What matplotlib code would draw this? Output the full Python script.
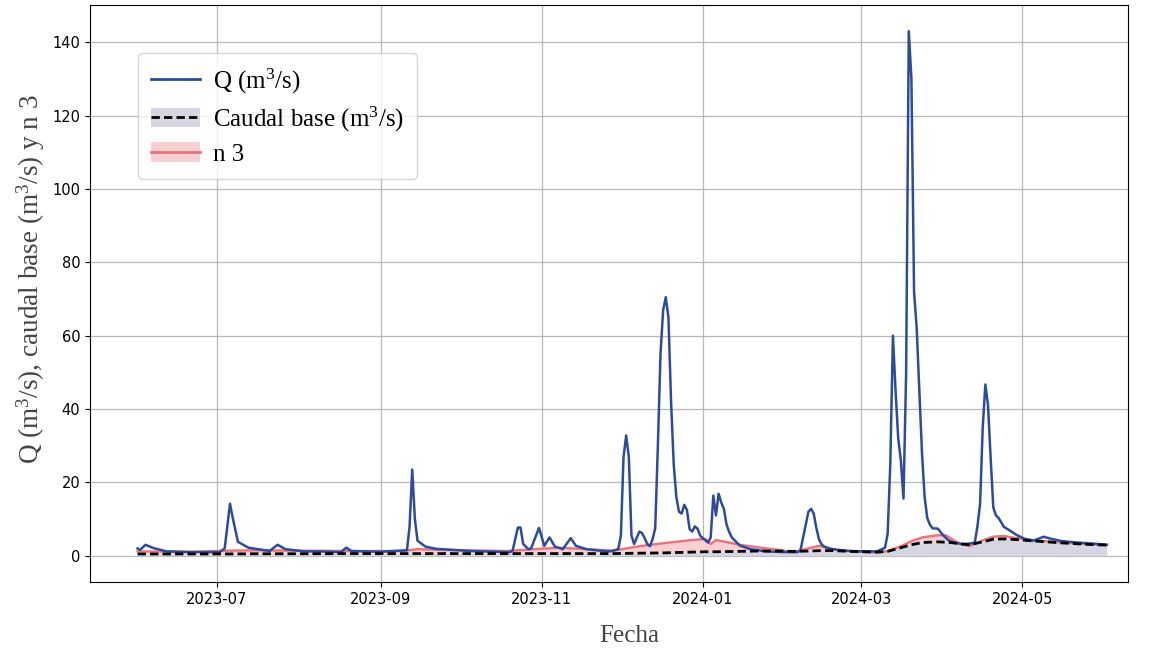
import datetime as dt
import matplotlib
matplotlib.use("Agg")
import matplotlib.pyplot as plt
import matplotlib.dates as mdates
from matplotlib.lines import Line2D
from matplotlib.patches import Patch

plt.rcParams["mathtext.fontset"] = "custom"
plt.rcParams["mathtext.rm"] = "Liberation Serif"
plt.rcParams["mathtext.it"] = "Liberation Serif:italic"
plt.rcParams["mathtext.bf"] = "Liberation Serif:bold"

START = dt.datetime(2023, 6, 1)

# Q (m3/s): (day offset from 2023-06-01, value)
q_days = [0, 1, 3, 6, 11, 20, 31, 33, 35, 36, 38, 42, 50, 53, 56, 63, 69, 77, 79, 81,
          92, 102, 103, 104, 105, 106, 109, 113, 126, 141, 142, 144, 145, 146, 148, 149,
          152, 154, 156, 158, 161, 164, 166, 170, 175, 179, 182, 183, 184, 185, 186, 187,
          188, 190, 191, 192, 193, 194, 195, 196, 197, 198, 199, 200, 201, 202, 203, 204,
          205, 206, 207, 208, 209, 210, 211, 212, 213, 214, 216, 217, 218, 219, 220, 221,
          222, 223, 224, 225, 228, 232, 238, 245, 250, 251, 252, 253, 254, 255, 256, 257,
          258, 259, 260, 262, 265, 270, 275, 280, 283, 284, 285, 286, 287, 288, 289, 290,
          291, 292, 293, 294, 295, 296, 297, 298, 299, 300, 301, 303, 305, 307, 309, 312,
          315, 317, 318, 319, 320, 321, 322, 323, 324, 325, 326, 328, 330, 333, 336, 339,
          341, 343, 346, 350, 356, 362, 367]
q_vals = [2.0, 1.6, 3.0, 2.1, 1.2, 1.0, 1.0, 2.0, 14.2, 10.5, 3.8, 2.2, 1.3, 3.0, 1.8, 1.2, 1.2, 1.0, 2.2, 1.3,
          1.1, 1.5, 8.0, 23.5, 10.0, 4.1, 2.5, 1.9, 1.3, 1.0, 1.4, 7.7, 7.7, 3.2, 1.8, 2.0,
          7.6, 2.7, 5.0, 2.5, 1.8, 4.8, 2.7, 1.8, 1.4, 1.2, 1.8, 5.5, 26.9, 32.8, 27.0, 5.5,
          3.2, 6.6, 6.2, 4.8, 3.2, 2.6, 4.5, 7.5, 30.0, 55.0, 67.0, 70.5, 65.0, 42.0, 25.0, 16.0,
          12.0, 11.5, 13.9, 12.5, 7.3, 6.6, 8.0, 7.4, 5.5, 4.8, 3.6, 5.0, 16.4, 11.0, 16.9, 14.5,
          12.8, 8.5, 6.5, 5.0, 2.8, 1.8, 1.2, 1.0, 1.0, 1.5, 5.0, 8.5, 12.0, 12.8, 11.5, 7.6,
          4.5, 3.1, 2.5, 2.0, 1.6, 1.3, 1.2, 1.2, 2.2, 6.0, 25.0, 60.0, 45.0, 32.0, 26.0, 15.6,
          50.0, 143.0, 130.0, 72.0, 62.0, 45.0, 28.0, 16.0, 10.3, 8.5, 7.5, 7.4, 5.6, 4.2, 3.6, 3.2,
          3.3, 3.6, 8.0, 14.2, 35.0, 46.7, 41.0, 26.6, 13.2, 11.0, 10.3, 7.9, 7.0, 5.6, 4.6, 4.1,
          4.6, 5.2, 4.6, 4.0, 3.6, 3.3, 3.0]

# Caudal base and n 3 (shared dates)
s_days = [0, 20, 35, 45, 60, 80, 100, 106, 115, 140, 150, 160, 170, 180, 190, 200, 210,
          215, 217, 219, 228, 235, 243, 248, 255, 258, 263, 270, 280, 284, 289, 293, 297,
          303, 306, 309, 312, 315, 320, 324, 328, 333, 340, 350, 360, 367]
base_vals = [0.5, 0.5, 0.5, 0.55, 0.55, 0.6, 0.6, 0.6, 0.6, 0.6, 0.6, 0.6, 0.6, 0.6, 0.7, 0.8, 1.0,
             1.1, 1.1, 1.1, 1.2, 1.3, 1.3, 1.2, 1.3, 1.4, 1.4, 1.2, 1.0, 1.2, 2.2, 3.0, 3.6,
             3.8, 3.7, 3.5, 3.2, 3.0, 3.8, 4.5, 4.6, 4.4, 4.0, 3.5, 3.1, 2.9]
n3_vals = [1.2, 1.1, 1.4, 1.5, 1.4, 1.3, 1.3, 1.8, 1.6, 1.3, 1.8, 2.2, 1.8, 1.4, 2.6, 3.5, 4.3,
           4.6, 3.2, 4.3, 3.0, 2.3, 1.6, 1.0, 2.2, 2.7, 1.8, 1.2, 0.9, 1.3, 2.6, 4.0, 5.0,
           5.6, 5.6, 4.2, 3.2, 2.6, 4.2, 5.2, 5.4, 4.8, 4.2, 3.6, 3.2, 3.0]

legend_labels = ["Q (m$^3$/s)", "Caudal base (m$^3$/s)", "n 3"]
x_label = "Fecha"
y_label = "Q (m$^3$/s), caudal base (m$^3$/s) y n 3"

q_dates = [START + dt.timedelta(days=d) for d in q_days]
s_dates = [START + dt.timedelta(days=d) for d in s_days]

BLUE = "#2b4c9e"
RED = "#e8737c"
PINK = "#f9cfd1"
GRAY = "#d6d6e2"

fig = plt.figure(figsize=(11.54, 6.48), dpi=100)
ax = fig.add_axes([90 / 1154, 1 - 582 / 648, (1128 - 90) / 1154, (582 - 5) / 648])

ax.fill_between(s_dates, 0, base_vals, color=GRAY, lw=0, zorder=2)
ax.fill_between(s_dates, base_vals, n3_vals, color=PINK, lw=0, zorder=2)
ax.plot(s_dates, n3_vals, color=RED, lw=1.7, zorder=3)
ax.plot(q_dates, q_vals, color=BLUE, lw=1.8, zorder=4)
ax.plot(s_dates, base_vals, color="black", lw=2.0, ls=(0, (3, 1.5)), zorder=5)

ax.set_xlim(START - dt.timedelta(days=18), START + dt.timedelta(days=375))
ax.xaxis.set_major_locator(mdates.MonthLocator(bymonth=[1, 3, 5, 7, 9, 11]))
ax.xaxis.set_major_formatter(mdates.DateFormatter("%Y-%m"))
ax.set_yticks(range(0, 141, 20))
ax.grid(True, color="#b8b8b8", lw=0.9)
ax.set_axisbelow(True)
ax.tick_params(labelsize=10.5)

serif = ["Liberation Serif", "DejaVu Serif"]
ax.set_xlabel(x_label, family=serif, fontsize=18, color="#444444")
ax.set_ylabel(y_label, family=serif, fontsize=19.5, color="#444444")
ax.xaxis.set_label_coords((629 - 90) / 1038, -(625 - 582) / 577)
ax.yaxis.set_label_coords(-(90 - 47) / 1038, (582 - 279) / 577)

h_q = Line2D([], [], color=BLUE, lw=2)
h_base = (Patch(facecolor=GRAY, lw=0), Line2D([], [], color="black", lw=2, ls=(0, (3, 1.5))))
h_n3 = (Patch(facecolor=PINK, lw=0), Line2D([], [], color=RED, lw=2))
leg = ax.legend([h_q, h_base, h_n3], legend_labels,
                loc="upper left", bbox_to_anchor=(0.046, 0.917), borderaxespad=0,
                prop={"family": serif, "size": 18}, handlelength=1.95, handleheight=0.8,
                handletextpad=0.5, framealpha=0.8, borderpad=0.55, labelspacing=0.35)

fig.savefig("out.png", dpi=100)
